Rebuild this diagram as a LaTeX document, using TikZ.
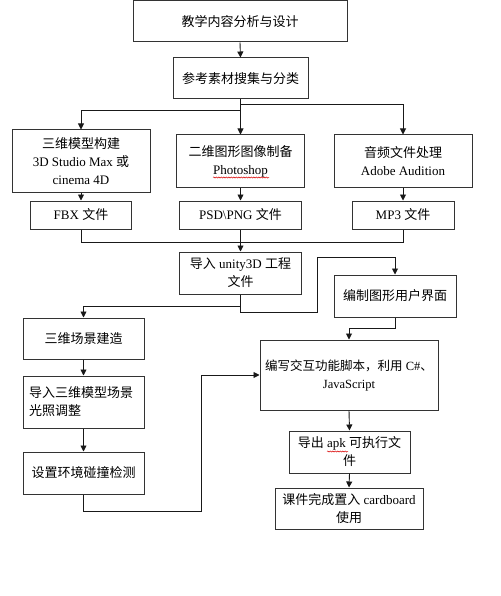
\documentclass[tikz,border=0pt]{standalone}
\usepackage{fontspec}
\setmainfont{Liberation Serif}
\newfontfamily\cjk{Noto Sans CJK SC}
\usetikzlibrary{arrows.meta,decorations.pathmorphing}
\begin{document}
\begin{tikzpicture}[x=1pt,y=-1pt,
  box/.style={draw=black!80, line width=1pt, inner sep=2pt, align=center,
    font=\fontsize{13}{18}\selectfont},
  txt/.style={inner sep=0pt, align=center, font=\fontsize{12.5}{18}\selectfont},
  arr/.style={draw=black!90, line width=0.9pt, -{Triangle[length=6pt,width=6pt]}},
  ln/.style={draw=black!90, line width=0.9pt},
  wavy/.style={draw=red!85!black, line width=0.5pt, decorate,
    decoration={snake, amplitude=0.6pt, segment length=2.5pt}}]
\useasboundingbox[fill=white] (0,0) rectangle (500,596);

% nodes
\node[box, minimum width=214, minimum height=41] (b1) at (240,21.5) {\cjk 教学内容分析与设计};
\node[box, minimum width=135, minimum height=41] (b2) at (240.5,78.5) {\cjk 参考素材搜集与分类};
\node[box, minimum width=138, minimum height=62] (b3) at (81,161) {{\cjk 三维模型构建}\\3D Studio Max {\cjk 或}\\cinema 4D};
\node[box, minimum width=128, minimum height=52] (b4) at (240.5,161) {{\cjk 二维图形图像制备}\\Photoshop};
\node[box, minimum width=138, minimum height=52] (b5) at (403,161) {{\cjk 音频文件处理}\\Adobe Audition};
\node[box, minimum width=101, minimum height=28] (f1) at (81,215) {FBX {\cjk 文件}};
\node[box, minimum width=122, minimum height=28] (f2) at (240.5,215) {PSD\textbackslash PNG {\cjk 文件}};
\node[box, minimum width=102, minimum height=28] (f3) at (403,215) {MP3 {\cjk 文件}};
\node[box, minimum width=122, minimum height=42] (u) at (240.5,273) {{\cjk 导入} unity3D {\cjk 工程}\\{\cjk 文件}};
\node[box, minimum width=122, minimum height=42] (g) at (395,296) {\cjk 编制图形用户界面};
\node[box, minimum width=121, minimum height=41] (s1) at (83.5,338.5) {\cjk 三维场景建造};
\node[box, minimum width=121, minimum height=52, text width=109, inner xsep=6pt, align=left] (s2) at (83.5,402) {\cjk 导入三维模型场景\\光照调整};
\node[box, minimum width=121, minimum height=42] (s3) at (83.5,473) {\cjk 设置环境碰撞检测};
\node[box, minimum width=178, minimum height=70] (j) at (349,375) {};
\node[txt, anchor=north] (jt) at ([yshift=-20pt]j.north) {{\cjk 编写交互功能脚本，利用} C\#{\cjk 、}\\JavaScript};
\node[box, minimum width=121, minimum height=42] (a) at (349.5,452) {{\cjk 导出} apk {\cjk 可执行文}\\{\cjk 件}};
\node[box, minimum width=148, minimum height=41] (c) at (349,508.5) {{\cjk 课件完成置入} cardboard\\{\cjk 使用}};

\coordinate (k1) at (317,312);
\coordinate (k2) at (317,257);
\coordinate (k3) at (201,511);

% connectors
\draw[arr] (b1.south) -- (b2.north);
\draw[arr] (b2.south) -- ++(0,11) -| (b3.north);
\draw[arr] (b2.south) -- (b4.north);
\draw[arr] (b2.south) -- ++(0,5) -| (b5.north);
\draw[arr] (b3.south) -- (f1.north);
\draw[arr] (b4.south) -- (f2.north);
\draw[arr] (b5.south) -- (f3.north);
\draw[ln] (f1.south) -- ++(0,13) -| (f3.south);
\draw[arr] (f2.south) -- (u.north);
\draw[arr] (u.south) -- ++(0,12) -| (s1.north);
\draw[arr] (u.south) |- (k1) -- (k2) -| (g.north);
\draw[arr] (g.south) -- ++(0,11) -| (j.north);
\draw[arr] (s1.south) -- (s2.north);
\draw[arr] (s2.south) -- (s3.north);
\draw[arr] (s3.south) |- (k3) |- (j.west);
\draw[arr] (j.south) -- (a.north);
\draw[arr] (a.south) -- (c.north);

% spell-check marks
\draw[wavy] (213,177.5) -- (269,177.5);
\draw[wavy] (327,451.5) -- (348,451.5);
\end{tikzpicture}
\end{document}
